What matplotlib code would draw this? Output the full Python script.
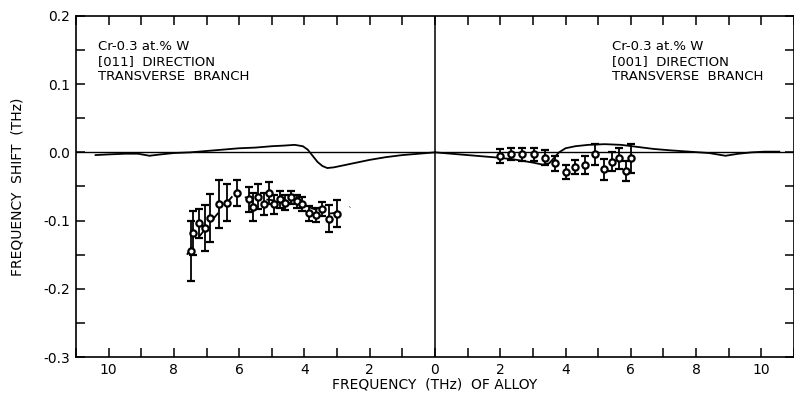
import numpy as np
import matplotlib.pyplot as plt

# theory curves (x < 0 is the [011] side, plotted reversed)
th_left_x = [-10.4, -10.0, -9.5, -9.1, -8.75, -8.4, -8.0, -7.5, -7.0, -6.5, -6.0, -5.5,
             -5.0, -4.6, -4.3, -4.05, -3.9, -3.75, -3.6, -3.45, -3.3, -3.1, -2.8,
             -2.4, -2.0, -1.5, -1.0, -0.5, 0.0]
th_left_y = [-0.004, -0.003, -0.002, -0.002, -0.005, -0.003, -0.001, 0.000, 0.002,
             0.004, 0.006, 0.007, 0.009, 0.010, 0.011, 0.009, 0.004, -0.005, -0.014,
             -0.020, -0.023, -0.022, -0.019, -0.015, -0.011, -0.007, -0.004, -0.002, 0.000]
th_right_x = [0.0, 0.5, 1.0, 1.5, 2.0, 2.5, 3.0, 3.3, 3.5, 3.65, 3.8, 4.0, 4.3, 4.7,
              5.2, 5.7, 6.2, 6.7, 7.2, 7.8, 8.4, 8.9, 9.3, 9.7, 10.1, 10.55]
th_right_y = [0.000, -0.002, -0.004, -0.006, -0.008, -0.011, -0.015, -0.018, -0.016,
              -0.008, 0.000, 0.006, 0.009, 0.011, 0.012, 0.011, 0.008, 0.005, 0.003,
              0.001, -0.001, -0.005, -0.002, 0.000, 0.001, 0.001]

# measured points, [011] branch (left)
m011_x = [-7.48, -7.40, -7.22, -7.05, -6.89, -6.62, -6.36, -6.07, -5.71, -5.57, -5.43,
          -5.25, -5.10, -4.94, -4.76, -4.59, -4.41, -4.23, -4.06, -3.86, -3.65, -3.47,
          -3.24, -3.01]
m011_y = [-0.145, -0.118, -0.104, -0.111, -0.096, -0.076, -0.074, -0.060, -0.069,
          -0.080, -0.065, -0.076, -0.059, -0.076, -0.069, -0.074, -0.066, -0.072,
          -0.076, -0.089, -0.092, -0.083, -0.097, -0.090]
m011_err = [0.044, 0.032, 0.021, 0.034, 0.035, 0.035, 0.027, 0.019, 0.018, 0.020,
            0.018, 0.016, 0.016, 0.014, 0.013, 0.011, 0.010, 0.010, 0.010, 0.011,
            0.010, 0.010, 0.020, 0.020]
fit011_x = [-7.6, -7.3, -7.0, -6.75, -6.4, -6.2, -5.8, -5.0, -4.0, -3.3, -2.9, -2.6]
fit011_y = [-0.150, -0.128, -0.110, -0.095, -0.075, -0.064, -0.066, -0.070, -0.078,
            -0.090, -0.088, -0.080]

# measured points, [001] branch (right)
m001_x = [2.00, 2.34, 2.67, 3.03, 3.36, 3.67, 4.02, 4.30, 4.61, 4.90, 5.17, 5.41, 5.63,
          5.84, 6.02]
m001_y = [-0.005, -0.002, -0.003, -0.003, -0.008, -0.016, -0.029, -0.021, -0.019,
          -0.003, -0.025, -0.014, -0.009, -0.027, -0.009]
m001_err = [0.010, 0.009, 0.010, 0.010, 0.011, 0.011, 0.010, 0.010, 0.013, 0.015,
            0.015, 0.014, 0.016, 0.015, 0.021]

xticks = np.arange(-11, 12)
xtick_labels = [str(abs(t)) if t % 2 == 0 else '' for t in xticks]

fig = plt.figure(figsize=(7.94, 3.98), dpi=100)
ax = fig.add_axes([0.0957, 0.103, 0.9043, 0.857])

ax.axhline(0, color='k', lw=1.0)
ax.axvline(0, color='k', lw=1.1)
ax.plot(th_left_x, th_left_y, 'k-', lw=1.3)
ax.plot(th_right_x, th_right_y, 'k-', lw=1.3)
ax.plot(fit011_x, fit011_y, 'k', lw=1.3, dashes=(5, 7))

ax.errorbar(m011_x, m011_y, yerr=m011_err, fmt='o', color='k', mfc='white', mec='k',
            ms=4.5, mew=1.6, elinewidth=1.3, capsize=3, capthick=1.3)
ax.errorbar(m001_x, m001_y, yerr=m001_err, fmt='o', color='k', mfc='white', mec='k',
            ms=4.5, mew=1.6, elinewidth=1.3, capsize=3, capthick=1.3)

ax.set_xlim(-11, 11)
ax.set_ylim(-0.3, 0.2)
ax.set_xticks(xticks)
ax.set_xticklabels(xtick_labels)
ax.set_yticks([-0.3, -0.2, -0.1, 0.0, 0.1, 0.2])
ax.set_yticklabels(['-0.3', '-0.2', '-0.1', '0.0', '0.1', '0.2'])
ax.set_yticks(np.arange(-0.25, 0.2, 0.1), minor=True)
ax.tick_params(which='both', direction='in', length=6.5, width=1.1, labelsize=10,
               top=True, right=True, pad=4)
for s in ax.spines.values():
    s.set_linewidth(1.2)

ax.set_xlabel('FREQUENCY  (THz)  OF ALLOY', fontsize=10, labelpad=1)
ax.set_ylabel('FREQUENCY  SHIFT  (THz)', fontsize=10, labelpad=14)

ax.text(0.03, 0.93, 'Cr-0.3 at.% W\n[011]  DIRECTION\nTRANSVERSE  BRANCH',
        transform=ax.transAxes, fontsize=9.5, va='top', linespacing=1.2)
ax.text(0.747, 0.93, 'Cr-0.3 at.% W\n[001]  DIRECTION\nTRANSVERSE  BRANCH',
        transform=ax.transAxes, fontsize=9.5, va='top', linespacing=1.2)

fig.savefig('out.png', dpi=100)
